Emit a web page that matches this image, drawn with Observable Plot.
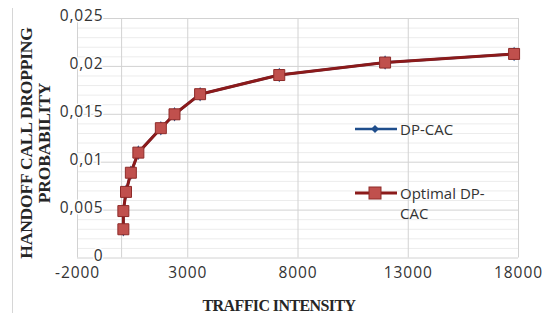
<!DOCTYPE html>
<html>
<head>
<meta charset="utf-8">
<script src="https://cdn.jsdelivr.net/npm/d3@7"></script>
<script src="https://cdn.jsdelivr.net/npm/@observablehq/plot@0.6"></script>
<style>
  html, body { margin: 0; padding: 0; background: #fff; }
  #wrap { position: relative; width: 547px; height: 313px; overflow: hidden; font-family: "Open Sans", sans-serif; }
  #frame { position: absolute; left: 12px; top: 8px; height: 310px; border-left: 1px solid #d6d6d6; }
  #ytitle { position: absolute; left: -115px; top: 125px; width: 300px; height: 36px; line-height: 18px;
            text-align: center; transform: rotate(-90deg); transform-origin: 150px 18px;
            font-family: "Liberation Serif", serif; font-weight: bold; font-size: 17.5px; color: #262626; letter-spacing: -0.2px; }
  #xtitle { position: absolute; left: 0; width: 558px; top: 297px; text-align: center;
            font-family: "Liberation Serif", serif; font-weight: bold; font-size: 16px; color: #262626; letter-spacing: -0.6px; }
  #legend { position: absolute; left: 355px; top: 119px; font-size: 15px; color: #333; line-height: 20.5px; }
  .row { position: relative; padding-left: 45px; }
  .row svg { position: absolute; left: 0; top: 0; }
</style>
</head>
<body>
<div id="wrap">
  <div id="frame"></div>
  <div id="chart"></div>
  <div id="ytitle">HANDOFF CALL DROPPING<br>PROBABILITY</div>
  <div id="xtitle">TRAFFIC INTENSITY</div>
  <div id="legend"></div>
</div>
<script>
// ---- data ----
const seriesNames = ["DP-CAC", "Optimal DP-CAC"];
const traffic   = [80, 80, 200, 420, 760, 1780, 2400, 3560, 7150, 11950, 17800];
const dpCac     = [0.0030, 0.0049, 0.0069, 0.0089, 0.0110, 0.01355, 0.0150, 0.0171, 0.0191, 0.0204, 0.0213];
const optimal   = [0.0030, 0.0049, 0.0069, 0.0089, 0.0110, 0.01355, 0.0150, 0.0171, 0.0191, 0.0204, 0.0213];
const xTicks    = [-2000, 3000, 8000, 13000, 18000];
const xGrid     = [-2000, 0, 3000, 8000, 13000, 18000];
const yTicks    = [0, 0.005, 0.01, 0.015, 0.02, 0.025];
const yMinor    = [0.001, 0.002, 0.003, 0.004, 0.006, 0.007, 0.008, 0.009, 0.011, 0.012, 0.013, 0.014,
                   0.016, 0.017, 0.018, 0.019, 0.021, 0.022, 0.023, 0.024];

const blue = "#1f4e8c", redLine = "#8b1a1a", redFill = "#c0504d", redEdge = "#8e2b29";

const dp  = traffic.map((t, i) => ({x: t, y: dpCac[i]}));
const opt = traffic.map((t, i) => ({x: t, y: optimal[i]}));
const fmt = d => String(+d.toFixed(3)).replace(".", ",");

const chart = Plot.plot({
  width: 547, height: 313,
  marginLeft: 77, marginRight: 29, marginTop: 18, marginBottom: 55.5,
  style: {fontFamily: "Open Sans, sans-serif", background: "transparent"},
  x: {domain: [-2000, 18000]},
  y: {domain: [0, 0.025]},
  marks: [
    Plot.ruleY(yMinor, {stroke: "#ececec", strokeWidth: 1}),
    Plot.ruleY(yTicks, {stroke: "#d2d2d2", strokeWidth: 1}),
    Plot.ruleX(xGrid, {stroke: "#d2d2d2", strokeWidth: 1}),
    Plot.text(yTicks, {x: () => 0, y: d => d, text: fmt, textAnchor: "end", dx: -18, dy: -2,
      fontSize: 15.5, fill: "#333", stroke: "white", strokeWidth: 3}),
    Plot.axisX(xTicks, {tickSize: 0, tickPadding: 8.5, fontSize: 15.5, fill: "#333", tickFormat: d => String(d), label: null}),
    Plot.axisY({ticks: [], label: null}),
    Plot.line(dp, {x: "x", y: "y", stroke: blue, strokeWidth: 2.5}),
    Plot.dot(dp, {x: "x", y: "y", symbol: "diamond", r: 3.5, fill: blue, stroke: blue}),
    Plot.line(opt, {x: "x", y: "y", stroke: redLine, strokeWidth: 3}),
    Plot.dot(opt, {x: "x", y: "y", symbol: "square", r: 6.2, fill: redFill, stroke: redEdge, strokeWidth: 1})
  ]
});
chart.querySelectorAll("text").forEach(t => t.style.letterSpacing = "0.9px");
document.getElementById("chart").appendChild(chart);

// legend
const legend = document.getElementById("legend");
const items = [
  {name: seriesNames[0], html: "DP-CAC", color: blue, sym: "diamond"},
  {name: seriesNames[1], html: "Optimal DP-<br>CAC", color: redLine, sym: "square"}
];
items.forEach((it, i) => {
  const row = document.createElement("div");
  row.className = "row";
  row.style.marginTop = i === 0 ? "0px" : "43px";
  const marker = it.sym === "diamond"
    ? `<path d="M20,6 L24,10 L20,14 L16,10 Z" fill="${blue}"/>`
    : `<rect x="14" y="4" width="12" height="12" fill="${redFill}" stroke="${redEdge}"/>`;
  row.innerHTML = `<svg width="44" height="20"><line x1="0" x2="42" y1="10" y2="10" stroke="${it.color}" stroke-width="${it.sym === "diamond" ? 2.5 : 3}"/>${marker}</svg>${it.html}`;
  legend.appendChild(row);
});
</script>
</body>
</html>
